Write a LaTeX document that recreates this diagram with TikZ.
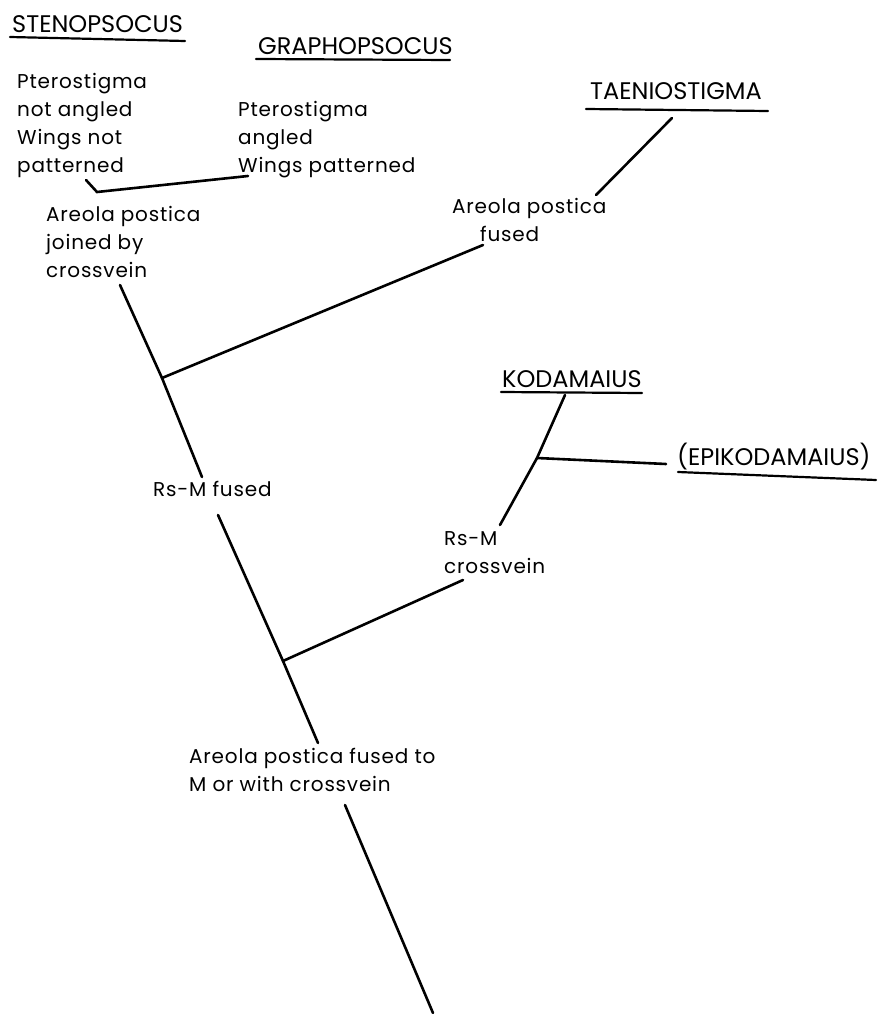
\documentclass[tikz,border=0pt]{standalone}
\usepackage{fontspec}
\setmainfont{Poppins}
\newfontfamily\labfont{Poppins}[LetterSpace=4]
\begin{document}
\begin{tikzpicture}[x=1pt,y=-1pt,line cap=round,
  vein/.style={line width=2.6pt},
  ul/.style={line width=2.2pt},
  genus/.style={inner sep=0pt,anchor=base west,font=\fontsize{24}{28}\selectfont},
  lab/.style={inner sep=0pt,anchor=north west,align=left,font=\labfont\fontsize{20}{28}\selectfont}]
\useasboundingbox (0,0) rectangle (885,1014);
% genus names
\node[genus] (sten) at (12,33) {STENOPSOCUS};
\node[genus] (graph) at (258,55) {GRAPHOPSOCUS};
\node[genus] (taen) at (590,100) {TAENIOSTIGMA};
\node[genus] (koda) at (502,387) {KODAMAIUS};
\node[genus] (epik) at (677,465) {(EPIKODAMAIUS)};
% underlines
\coordinate (stenA) at (10,37); \coordinate (stenB) at (185,41);
\coordinate (graphA) at (256,59); \coordinate (graphB) at (450,60);
\coordinate (taenA) at (586,109); \coordinate (taenB) at (768,111);
\coordinate (kodaA) at (501,392); \coordinate (kodaB) at (642,393);
\coordinate (epikA) at (678,472); \coordinate (epikB) at (876,480);
\draw[ul] (stenA) -- (stenB);
\draw[ul] (graphA) -- (graphB);
\draw[ul] (taenA) -- (taenB);
\draw[ul] (kodaA) -- (kodaB);
\draw[ul] (epikA) -- (epikB);
% character labels
\node[lab] (l1) at (17,73) {Pterostigma\\not angled\\Wings not\\patterned};
\node[lab] (l2) at (238,101) {Pterostigma\\angled\\Wings patterned};
\node[lab] (l3) at (46,206) {Areola postica\\joined by\\crossvein};
\node[lab] (l4) at (452,198) {Areola postica\\\hspace*{28pt}fused};
\node[lab] (l5) at (153,481) {Rs-M fused};
\node[lab] (l6) at (444,531) {Rs-M\\crossvein};
\node[lab] (l7) at (189,748) {Areola postica fused to\\M or with crossvein};
% junctions and ends
\coordinate (s1) at (86,180); \coordinate (j0) at (97,192); \coordinate (g1) at (248,176);
\coordinate (t0) at (120,285); \coordinate (j1) at (162,378); \coordinate (t1) at (202,477);
\coordinate (b1) at (483,245);
\coordinate (ta0) at (596,195); \coordinate (ta1) at (672,118);
\coordinate (t2) at (218,515); \coordinate (j2) at (283,661); \coordinate (t3) at (318,743);
\coordinate (b2) at (463,580);
\coordinate (k0) at (500,525); \coordinate (j3) at (537,458); \coordinate (k1) at (565,395);
\coordinate (e0) at (666,464);
\coordinate (t4) at (345,805); \coordinate (t5) at (433,1013);
% veins
\draw[vein] (s1) -- (j0) -- (g1);
\draw[vein] (t0) -- (j1) -- (t1);
\draw[vein] (j1) -- (b1);
\draw[vein] (ta0) -- (ta1);
\draw[vein] (t2) -- (j2) -- (t3);
\draw[vein] (j2) -- (b2);
\draw[vein] (k0) -- (j3) -- (k1);
\draw[vein] (j3) -- (e0);
\draw[vein] (t4) -- (t5);
\end{tikzpicture}
\end{document}
